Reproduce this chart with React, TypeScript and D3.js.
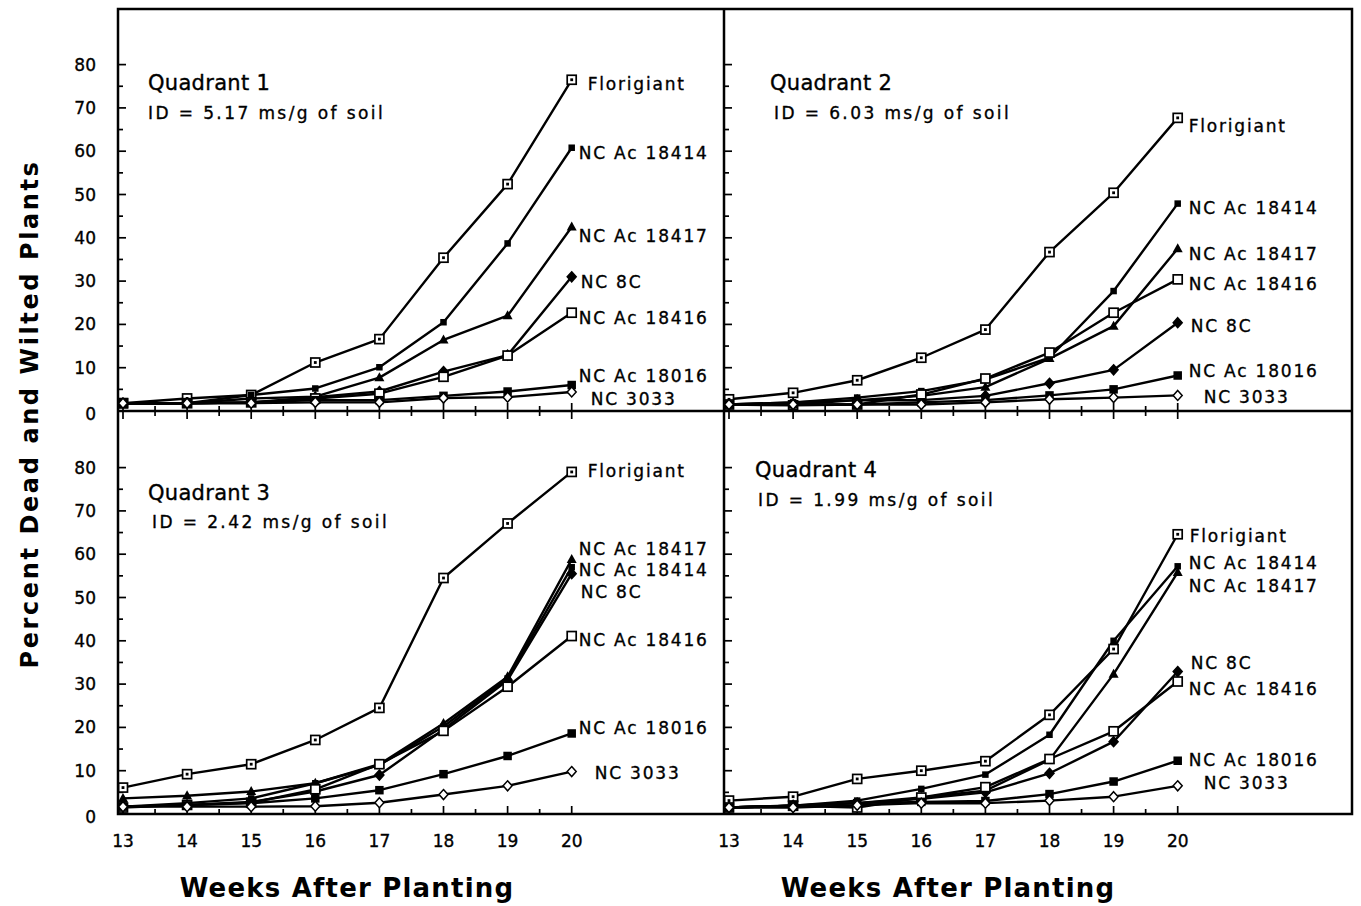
import React, { useEffect, useRef } from 'react';
import * as d3 from 'd3';

const weeks = [13, 14, 15, 16, 17, 18, 19, 20];
const cultivars = ['Florigiant', 'NC Ac 18414', 'NC Ac 18417', 'NC 8C', 'NC Ac 18416', 'NC Ac 18016', 'NC 3033'];
const markers = ['squareDot', 'square', 'triangle', 'diamond', 'squareOpen', 'squareBig', 'diamondOpen'];
const yTicks = [0, 10, 20, 30, 40, 50, 60, 70, 80];

const quadrantNames = ['Quadrant 1', 'Quadrant 2', 'Quadrant 3', 'Quadrant 4'];
const densities = ['5.17', '6.03', '2.42', '1.99'];

// percent dead and wilted plants, one row per cultivar (same order as cultivars)
const q1 = [
  [1.8, 2.9, 3.7, 11.2, 16.6, 35.4, 52.4, 76.5],
  [1.8, 1.8, 3.7, 5.2, 10.1, 20.5, 38.7, 60.8],
  [1.8, 1.8, 2.9, 3.3, 7.7, 16.4, 22.0, 42.5],
  [1.8, 1.8, 2.0, 3.2, 4.5, 9.1, 12.9, 31.0],
  [1.8, 1.8, 2.0, 2.9, 4.0, 7.9, 12.8, 22.7],
  [1.8, 1.8, 2.0, 2.5, 2.5, 3.5, 4.5, 6.0],
  [1.8, 1.8, 1.8, 2.0, 2.0, 3.0, 3.2, 4.4],
];
const q2 = [
  [2.7, 4.2, 7.1, 12.3, 18.8, 36.7, 50.4, 67.7],
  [1.5, 2.0, 3.1, 4.6, 7.3, 12.3, 27.7, 47.9],
  [1.5, 2.0, 2.5, 3.5, 5.5, 12.1, 19.6, 37.5],
  [1.5, 1.5, 2.5, 2.5, 3.5, 6.4, 9.5, 20.4],
  [1.5, 1.3, 1.5, 3.8, 7.5, 13.5, 22.7, 30.4],
  [1.5, 1.5, 1.5, 2.0, 2.5, 3.6, 5.0, 8.2],
  [1.5, 1.5, 1.5, 1.5, 2.0, 2.7, 3.1, 3.6],
];
const q3 = [
  [6.1, 9.2, 11.5, 17.1, 24.5, 54.5, 67.1, 79.0],
  [1.7, 2.5, 3.6, 7.1, 11.3, 20.2, 31.3, 57.0],
  [3.6, 4.2, 5.2, 7.1, 11.5, 20.9, 31.7, 58.8],
  [1.7, 2.1, 2.8, 5.2, 9.0, 19.5, 30.9, 55.5],
  [1.5, 2.1, 2.6, 5.7, 11.5, 19.2, 29.4, 41.1],
  [1.7, 2.0, 2.5, 3.6, 5.5, 9.2, 13.4, 18.6],
  [1.7, 1.7, 1.7, 1.8, 2.6, 4.5, 6.5, 9.8],
];
const q4 = [
  [3.1, 4.0, 8.1, 10.0, 12.2, 22.9, 38.1, 64.6],
  [1.5, 1.9, 3.1, 5.8, 9.1, 18.3, 40.0, 57.2],
  [1.5, 1.9, 2.5, 3.8, 5.4, 12.5, 32.3, 55.8],
  [1.5, 2.0, 2.5, 3.5, 5.0, 9.4, 16.7, 32.9],
  [1.5, 1.9, 1.5, 3.8, 6.2, 12.7, 19.1, 30.6],
  [1.5, 1.9, 2.5, 2.8, 3.0, 4.6, 7.5, 12.3],
  [1.5, 1.5, 2.0, 2.5, 2.5, 3.1, 4.0, 6.5],
];
const quadrantData = [q1, q2, q3, q4];

// where the end labels sit (in data units) and how far right of week 20
const labelAt = [
  [75.5, 59.6, 40.4, 29.8, 21.5, 8.1, 2.8],
  [65.8, 46.9, 36.3, 19.6, 29.3, 9.2, 3.2],
  [79.2, 56.4, 61.2, 51.3, 40.2, 19.9, 9.5],
  [64.2, 58.0, 52.7, 34.9, 28.9, 12.5, 7.2],
];
const labelDx = [
  [16, 7, 7, 9, 7, 7, 19],
  [11, 11, 11, 13, 11, 11, 26],
  [16, 7, 7, 9, 7, 7, 23],
  [12, 11, 11, 13, 11, 11, 26],
];

const panels = [
  { x0: 118, x1: 724, y0: 9, y1: 411, title: [148, 83], id: [148, 113] },
  { x0: 724, x1: 1352, y0: 9, y1: 411, title: [770, 83], id: [774, 113] },
  { x0: 118, x1: 724, y0: 411, y1: 814, title: [148, 493], id: [152, 522] },
  { x0: 724, x1: 1352, y0: 411, y1: 814, title: [755, 470], id: [758, 500] },
];

const font = '"DejaVu Sans", Verdana, sans-serif';

const drawMarker = (g, type, x, y) => {
  if (type === 'squareDot' || type === 'squareOpen') {
    g.append('rect').attr('x', x - 4.5).attr('y', y - 4.5).attr('width', 9).attr('height', 9)
      .attr('fill', '#fff').attr('stroke', '#000').attr('stroke-width', 1.7);
    if (type === 'squareDot') {
      g.append('rect').attr('x', x - 1.4).attr('y', y - 1.4).attr('width', 2.8).attr('height', 2.8).attr('fill', '#000');
    }
  } else if (type === 'square' || type === 'squareBig') {
    const s = type === 'square' ? 6.5 : 8.5;
    g.append('rect').attr('x', x - s / 2).attr('y', y - s / 2).attr('width', s).attr('height', s).attr('fill', '#000');
  } else if (type === 'triangle') {
    g.append('path').attr('d', `M${x},${y - 5.5}L${x + 5},${y + 3.5}L${x - 5},${y + 3.5}Z`).attr('fill', '#000');
  } else {
    g.append('path').attr('d', `M${x},${y - 5}L${x + 4.5},${y}L${x},${y + 5}L${x - 4.5},${y}Z`)
      .attr('fill', type === 'diamond' ? '#000' : '#fff').attr('stroke', '#000').attr('stroke-width', 1.5);
  }
};

const App = () => {
  const ref = useRef(null);

  useEffect(() => {
    const svg = d3.select(ref.current);
    svg.selectAll('*').remove();

    const txt = (sel, size) => sel.attr('font-family', font).attr('font-size', size)
      .attr('stroke', '#000').attr('stroke-width', 0.35).attr('fill', '#000');

    panels.forEach((p, qi) => {
      const x = d3.scaleLinear().domain([13, 20]).range([p.x0 + 5, p.x0 + 5 + 7 * 64.1]);
      const y = d3.scaleLinear().domain([0, 80]).range([p.y1, p.y1 - 80 * 4.33]);
      const g = svg.append('g');

      // y ticks on the left side of each panel, pointing inwards
      d3.range(0, 81, 5).forEach(v => {
        g.append('line').attr('x1', p.x0).attr('x2', p.x0 + (v % 10 === 0 ? 8 : 5))
          .attr('y1', y(v)).attr('y2', y(v)).attr('stroke', '#000').attr('stroke-width', 1.7);
      });
      // x ticks at bottom (up) and top (down for lower panels)
      d3.range(13, 20.01, 0.5).forEach(w => {
        const len = Number.isInteger(w) ? 8 : 5;
        g.append('line').attr('x1', x(w)).attr('x2', x(w)).attr('y1', p.y1).attr('y2', p.y1 - len)
          .attr('stroke', '#000').attr('stroke-width', 1.7);
        if (qi >= 2) {
          g.append('line').attr('x1', x(w)).attr('x2', x(w)).attr('y1', p.y0).attr('y2', p.y0 + len)
            .attr('stroke', '#000').attr('stroke-width', 1.7);
        }
      });

      if (p.x0 < 700) {
        yTicks.forEach(v => {
          txt(g.append('text'), 17).attr('x', 96).attr('y', y(v) + (v === 0 ? 3 : 0)).attr('text-anchor', 'end')
            .attr('dominant-baseline', 'central').text(v);
        });
      }
      if (qi >= 2) {
        weeks.forEach(w => {
          txt(g.append('text'), 17).attr('x', x(w)).attr('y', 841).attr('text-anchor', 'middle')
            .attr('dominant-baseline', 'central').text(w);
        });
      }

      const line = d3.line().x((d, i) => x(weeks[i])).y(d => y(d));
      const rows = quadrantData[qi];
      rows.forEach(row => {
        g.append('path').attr('d', line(row)).attr('fill', 'none').attr('stroke', '#000')
          .attr('stroke-width', 2.4).attr('stroke-linejoin', 'round');
      });
      rows.forEach((row, ci) => {
        row.forEach((v, i) => drawMarker(g, markers[ci], x(weeks[i]), y(v)));
      });

      cultivars.forEach((name, ci) => {
        txt(g.append('text'), 17).attr('x', x(20) + labelDx[qi][ci]).attr('y', y(labelAt[qi][ci]))
          .attr('dominant-baseline', 'central').attr('letter-spacing', 1.8).text(name);
      });

      txt(g.append('text'), 21).attr('x', p.title[0]).attr('y', p.title[1]).attr('dominant-baseline', 'central')
        .attr('letter-spacing', 0.3).text(quadrantNames[qi]);
      txt(g.append('text'), 17).attr('x', p.id[0]).attr('y', p.id[1]).attr('dominant-baseline', 'central')
        .attr('letter-spacing', 2.4).text(`ID = ${densities[qi]} ms/g of soil`);
    });

    // frame and dividers
    svg.append('rect').attr('x', 118).attr('y', 9).attr('width', 1352 - 118).attr('height', 814 - 9)
      .attr('fill', 'none').attr('stroke', '#000').attr('stroke-width', 2.5);
    svg.append('line').attr('x1', 724).attr('x2', 724).attr('y1', 9).attr('y2', 814)
      .attr('stroke', '#000').attr('stroke-width', 2.5);
    svg.append('line').attr('x1', 118).attr('x2', 1352).attr('y1', 411).attr('y2', 411)
      .attr('stroke', '#000').attr('stroke-width', 2.5);

    [347, 948].forEach(cx => {
      svg.append('text').attr('x', cx).attr('y', 888).attr('text-anchor', 'middle')
        .attr('dominant-baseline', 'central').attr('font-family', font).attr('font-size', 26)
        .attr('font-weight', 'bold').attr('letter-spacing', 1.2).text('Weeks After Planting');
    });
    svg.append('text').attr('transform', 'translate(30,414) rotate(-90)').attr('text-anchor', 'middle')
      .attr('dominant-baseline', 'central').attr('font-family', font).attr('font-size', 24)
      .attr('font-weight', 'bold').attr('letter-spacing', 2.6).text('Percent Dead and Wilted Plants');
  }, []);

  return (
    <svg ref={ref} width={1361} height={906}
      style={{ position: 'absolute', left: 0, top: 0, background: '#fff' }} />
  );
};

export default App;
